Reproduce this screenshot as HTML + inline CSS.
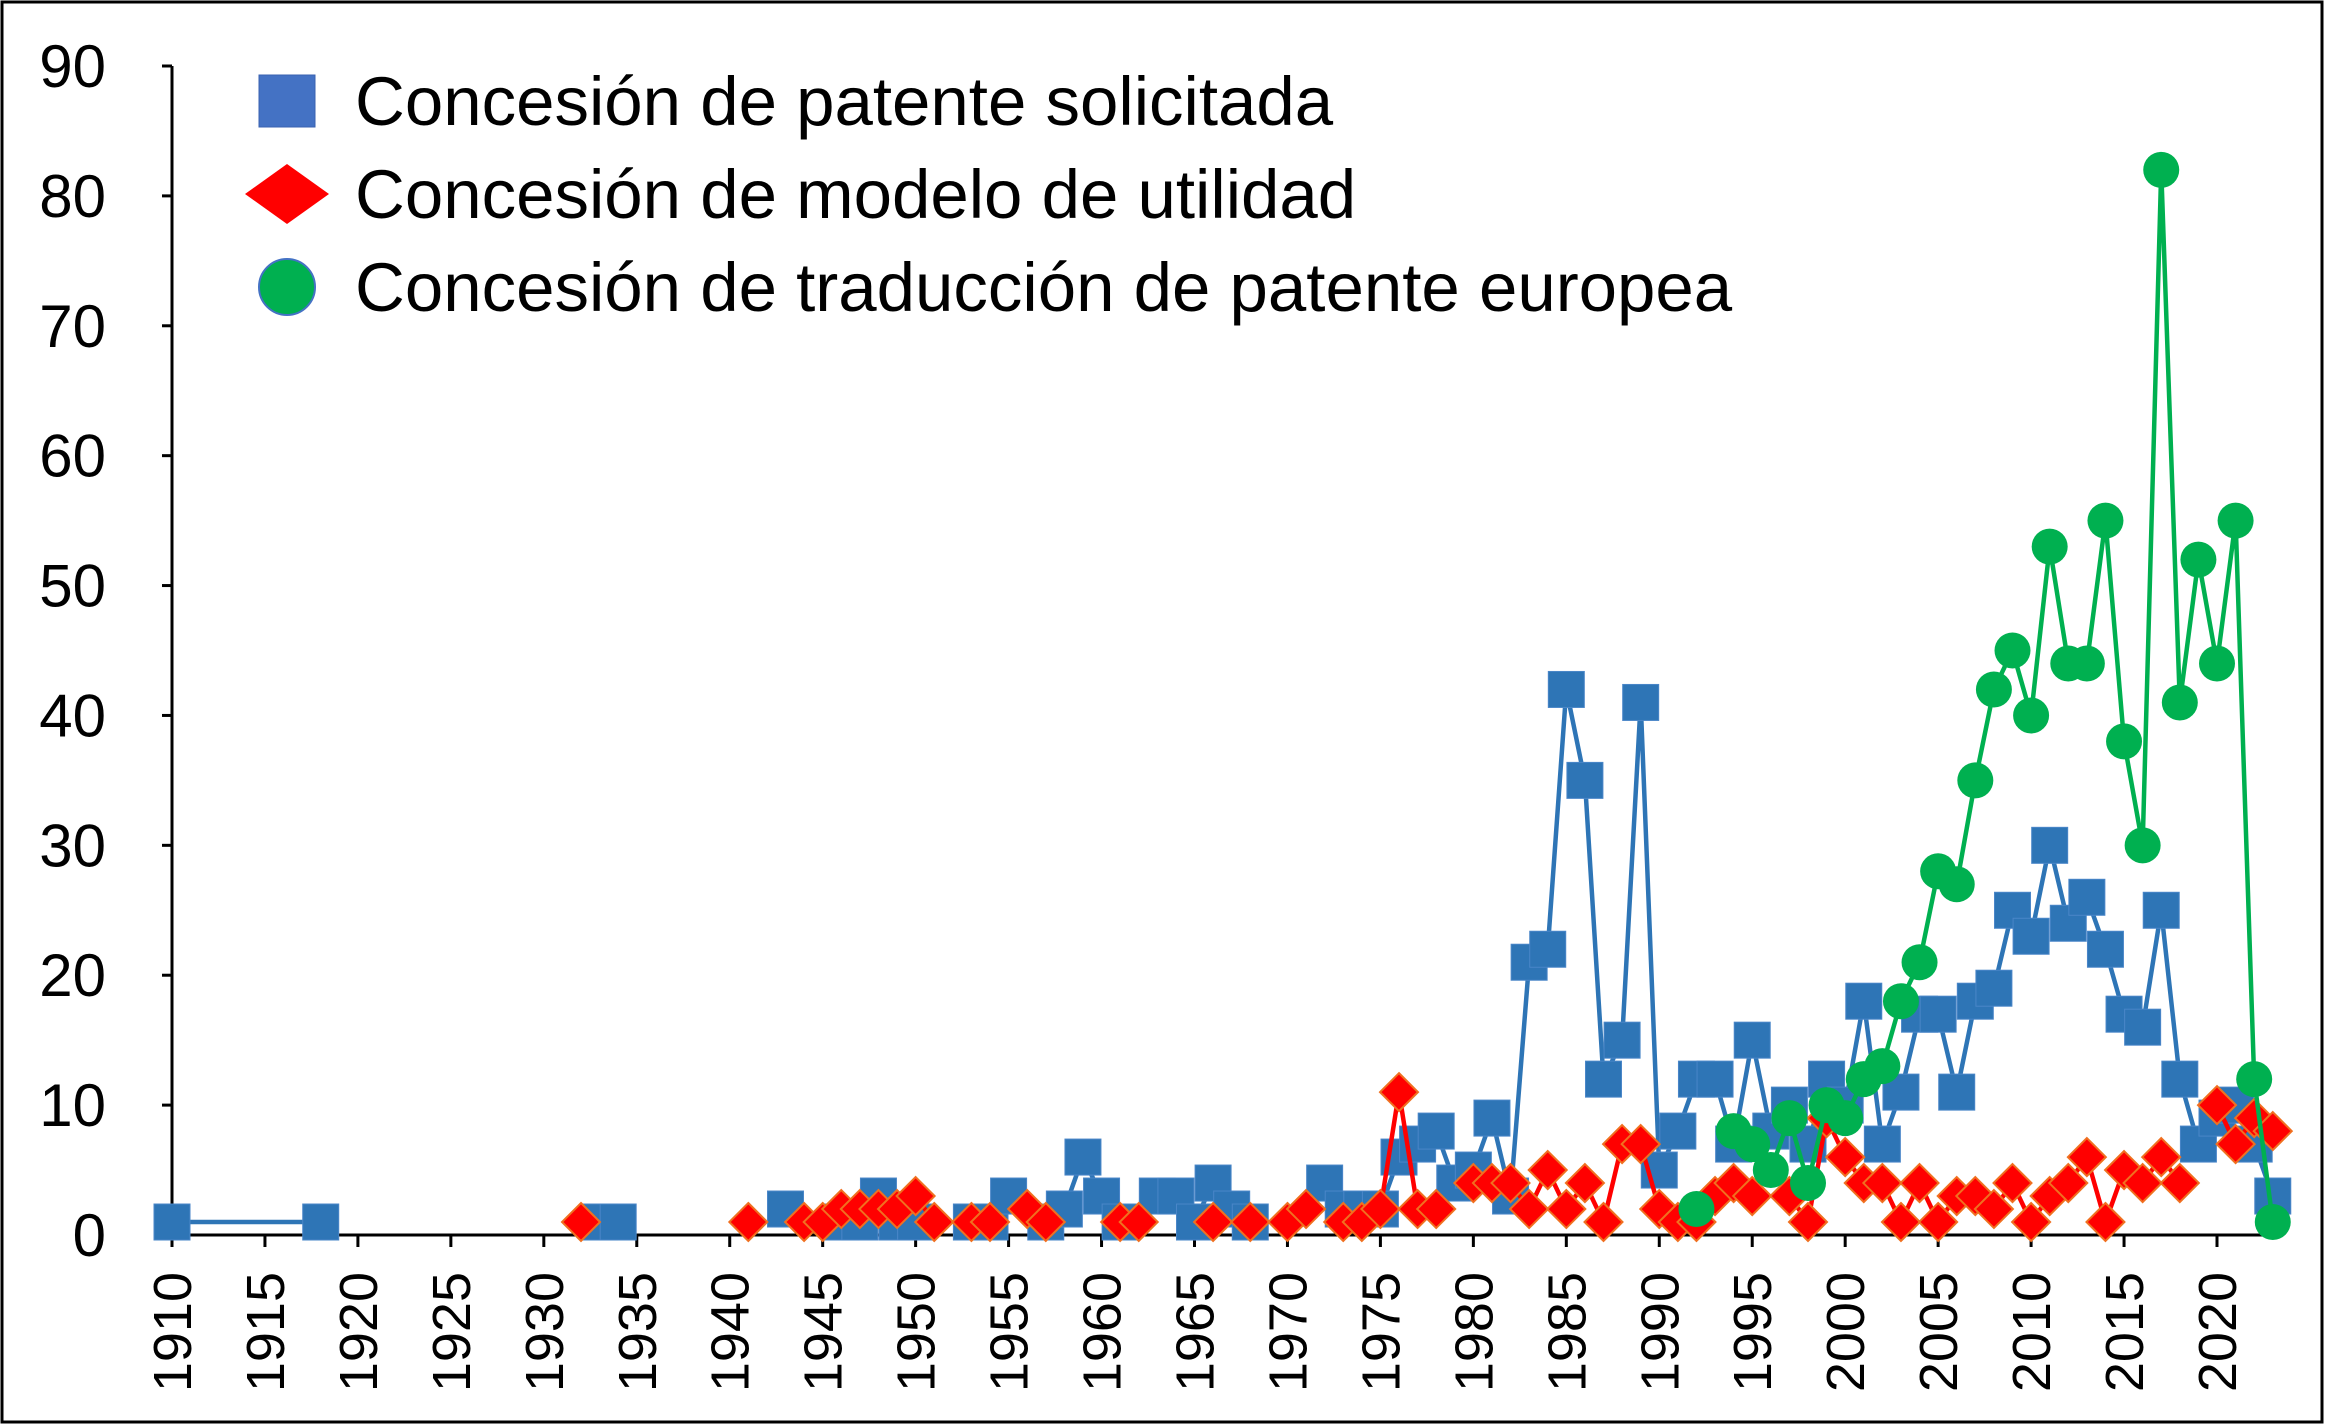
<!DOCTYPE html>
<html><head><meta charset="utf-8"><style>
html,body{margin:0;padding:0;background:#fff}
svg{display:block;font-family:"Liberation Sans","DejaVu Sans",sans-serif}
</style></head><body>
<svg id="chart" width="2341" height="1428" viewBox="0 0 2341 1428" xmlns="http://www.w3.org/2000/svg">
<rect x="2" y="2" width="2320" height="1420" fill="#fff" stroke="#000" stroke-width="3"/>
<g id="grid"></g>
<g id="series"></g>
<g id="legend"></g>
</svg>
<script>
const yTicks=[0,10,20,30,40,50,60,70,80,90];
const xTicks=[1910,1915,1920,1925,1930,1935,1940,1945,1950,1955,1960,1965,1970,1975,1980,1985,1990,1995,2000,2005,2010,2015,2020];
const patentYears=[1910,1918,null,1933,1934,null,1943,null,1946,1947,1948,1949,1950,null,1953,1954,1955,null,1957,1958,1959,1960,1961,null,1963,1964,1965,1966,1967,1968,null,1972,1973,1974,1975,1976,1977,1978,1979,1980,1981,1982,1983,1984,1985,1986,1987,1988,1989,1990,1991,1992,1993,1994,1995,1996,1997,1998,1999,2000,2001,2002,2003,2004,2005,2006,2007,2008,2009,2010,2011,2012,2013,2014,2015,2016,2017,2018,2019,2020,2021,2022,2023];
const patentValues=[1,1,null,1,1,null,2,null,1,1,3,1,1,null,1,1,3,null,1,2,6,3,1,null,3,3,1,4,2,1,null,4,2,2,2,6,7,8,4,5,9,3,21,22,42,35,12,15,41,5,8,12,12,7,15,8,10,7,12,10,18,7,11,17,17,11,18,19,25,23,30,24,26,22,17,16,25,12,7,9,10,7,3];
const utilityYears=[1932,null,1941,null,1944,1945,1946,1947,1948,1949,1950,1951,null,1953,1954,null,1956,1957,null,1961,1962,null,1966,null,1968,null,1970,1971,null,1973,1974,1975,1976,1977,1978,null,1980,1981,1982,1983,1984,1985,1986,1987,1988,1989,1990,1991,1992,1993,1994,1995,null,1997,1998,1999,2000,2001,2002,2003,2004,2005,2006,2007,2008,2009,2010,2011,2012,2013,2014,2015,2016,2017,2018,null,2020,2021,2022,2023];
const utilityValues=[1,null,1,null,1,1,2,2,2,2,3,1,null,1,1,null,2,1,null,1,1,null,1,null,1,null,1,2,null,1,1,2,11,2,2,null,4,4,4,2,5,2,4,1,7,7,2,1,1,3,4,3,null,3,1,9,6,4,4,1,4,1,3,3,2,4,1,3,4,6,1,5,4,6,4,null,10,7,9,8];
const europeYears=[1992,null,1994,1995,1996,1997,1998,1999,2000,2001,2002,2003,2004,2005,2006,2007,2008,2009,2010,2011,2012,2013,2014,2015,2016,2017,2018,2019,2020,2021,2022,2023];
const europeValues=[2,null,8,7,5,9,4,10,9,12,13,18,21,28,27,35,42,45,40,53,44,44,55,38,30,82,41,52,44,55,12,1];
const legendLabels=["Concesión de patente solicitada","Concesión de modelo de utilidad","Concesión de traducción de patente europea"];

const NS="http://www.w3.org/2000/svg";
const X0=172,Y0=1235,Y90=66;
const xs=y=>X0+(y-1910)*(2217-172)/110;
const ys=v=>Y0-v*(Y0-Y90)/90;
function mk(tag,attrs,parent){const e=document.createElementNS(NS,tag);for(const k in attrs)e.setAttribute(k,attrs[k]);parent.appendChild(e);return e;}
const grid=document.getElementById('grid'),ser=document.getElementById('series'),leg=document.getElementById('legend');

yTicks.forEach(t=>{
  const tx=mk('text',{x:106,y:ys(t)+21,'text-anchor':'end','font-size':60,fill:'#000'},grid);
  tx.textContent=t;
  
  
  const tk=mk('line',{x1:162,x2:X0,y1:ys(t),y2:ys(t),stroke:'#000','stroke-width':3},grid);
  
  
});
xTicks.forEach(t=>{
  const tk=mk('line',{x1:xs(t),x2:xs(t),y1:Y0,y2:Y0+12,stroke:'#000','stroke-width':3},grid);
  
  
  const x=xs(t)+19,y=1272;
  const tx=mk('text',{x:x,y:y,'text-anchor':'end','font-size':54,fill:'#000',transform:`rotate(-90 ${x} ${y})`},grid);
  tx.textContent=t;
  
  
});
const ya=mk('line',{x1:X0,x2:X0,y1:Y90,y2:Y0,stroke:'#000','stroke-width':3},grid);


const xa=mk('line',{x1:X0,x2:2280,y1:Y0,y2:Y0,stroke:'#000','stroke-width':3},grid);



function marker(kind,cx,cy,parent){
  let e;
  if(kind==='sq') e=mk('rect',{x:cx-18,y:cy-18,width:36,height:36,fill:'#2e75b6',stroke:'#4a86c8','stroke-width':1},parent);
  else if(kind==='dm') e=mk('polygon',{points:`${cx},${cy-19} ${cx+19},${cy} ${cx},${cy+19} ${cx-19},${cy}`,fill:'#ff0000',stroke:'#f07020','stroke-width':2},parent);
  else e=mk('circle',{cx:cx,cy:cy,r:18,fill:'#00b050'},parent);
  return e;
}
function draw(years,vals,color,kind,name){
  const g=mk('g',{},ser);
  
  
  let seg=[];
  const flush=()=>{if(seg.length>1){const p=mk('polyline',{points:seg.join(' '),fill:'none',stroke:color,'stroke-width':4.5,'stroke-linejoin':'round'},g);}seg=[];};
  years.forEach((y,i)=>{if(y===null||vals[i]===null){flush();return;}seg.push(xs(y)+','+ys(vals[i]));});
  flush();
  years.forEach((y,i)=>{if(y===null||vals[i]===null)return;const m=marker(kind,xs(y),ys(vals[i]),g);});
}
draw(patentYears,patentValues,'#2e75b6','sq','patent');
draw(utilityYears,utilityValues,'#ff0000','dm','utility');
draw(europeYears,europeValues,'#00b050','ci','european');

const kinds=['sq','dm','ci'],ly=[101,194,287];
legendLabels.forEach((l,i)=>{
  const kx=287;
  let m;
  if(kinds[i]==='sq') m=mk('rect',{x:kx-28,y:ly[i]-26,width:56,height:52,fill:'#4472c4',stroke:'#3a62b0','stroke-width':1},leg);
  else if(kinds[i]==='dm') m=mk('polygon',{points:`${kx},${ly[i]-30} ${kx+42},${ly[i]} ${kx},${ly[i]+30} ${kx-42},${ly[i]}`,fill:'#ff0000'},leg);
  else m=mk('circle',{cx:kx,cy:ly[i],r:28,fill:'#00b050',stroke:'#4472c4','stroke-width':2},leg);
  
  
  const t=mk('text',{x:355,y:ly[i]+24,'font-size':69,fill:'#000'},leg);
  t.textContent=l;
  
  
});
</script>
</body></html>
